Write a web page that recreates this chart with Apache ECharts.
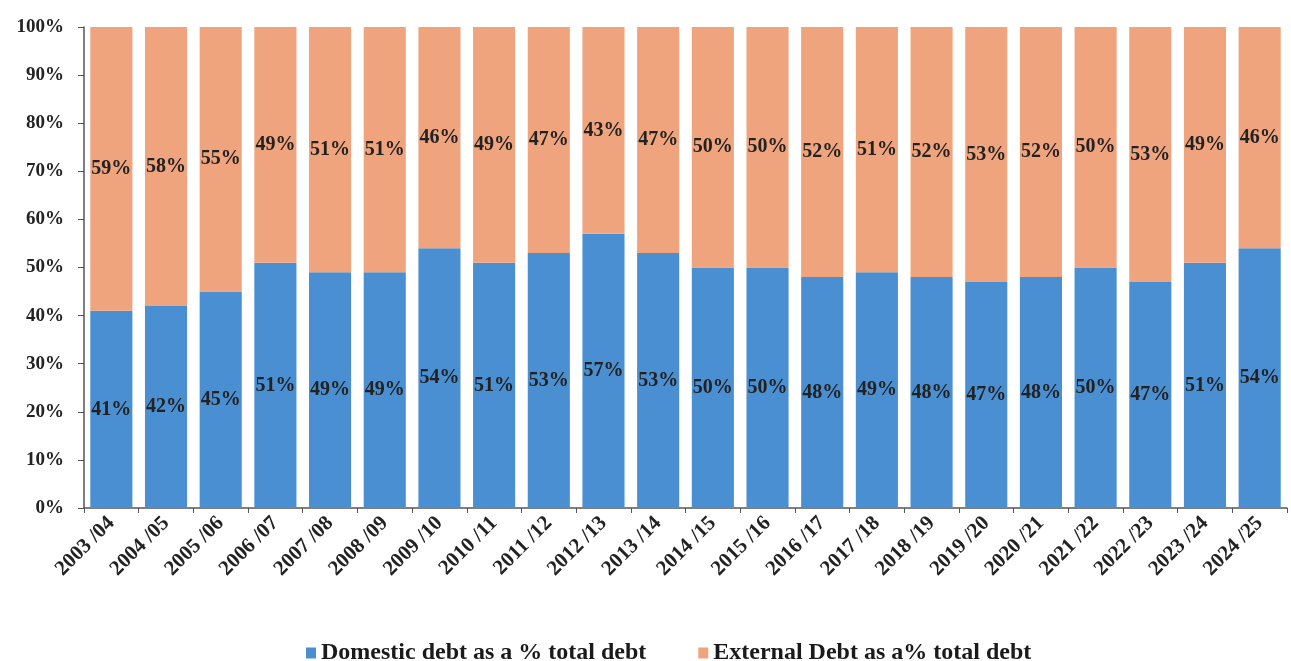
<!DOCTYPE html>
<html>
<head>
<meta charset="utf-8">
<script src="https://cdn.jsdelivr.net/npm/echarts@6/dist/echarts.min.js"></script>
<style>
  html, body { margin: 0; padding: 0; background: #fff; }
  #chart { width: 1291px; height: 661px; }
</style>
</head>
<body>
<div id="chart"></div>
<script>
var years = ['2003/04', '2004/05', '2005/06', '2006/07', '2007/08', '2008/09', '2009/10',
    '2010/11', '2011/12', '2012/13', '2013/14', '2014/15', '2015/16', '2016/17', '2017/18',
    '2018/19', '2019/20', '2020/21', '2021/22', '2022/23', '2023/24', '2024/25'];
var domestic = [41, 42, 45, 51, 49, 49, 54, 51, 53, 57, 53, 50, 50, 48, 49, 48, 47, 48, 50, 47, 51, 54];
var external = [59, 58, 55, 49, 51, 51, 46, 49, 47, 43, 47, 50, 50, 52, 51, 52, 53, 52, 50, 53, 49, 46];
var yTicks = [0, 10, 20, 30, 40, 50, 60, 70, 80, 90, 100];

var serif = '"Liberation Serif", "DejaVu Serif", serif';

function drawChart(dom) {
    var labelStyle = {
        show: true,
        position: 'inside',
        formatter: '{c}%',
        fontFamily: serif,
        fontWeight: 'bold',
        fontSize: 20,
        color: '#222'
    };
    var option = {
        backgroundColor: '#fff',
        animation: false,
        grid: {left: 84, right: 4, top: 27, bottom: 153},
        legend: {
            top: 636,
            left: 301,
            itemWidth: 10,
            itemHeight: 11,
            itemGap: 52,
            icon: 'rect',
            textStyle: {fontFamily: serif, fontSize: 24, fontWeight: 'bold', color: '#1a1a1a'},
            data: ['Domestic debt as a % total debt', 'External Debt as a% total debt']
        },
        xAxis: {
            type: 'category',
            data: years,
            axisLine: {lineStyle: {color: '#555', width: 1.5}},
            axisTick: {show: true, length: 5, lineStyle: {color: '#555'}},
            axisLabel: {
                rotate: 45,
                interval: 0,
                fontFamily: serif,
                fontWeight: 'bold',
                fontSize: 21,
                color: '#222',
                margin: 12,
                // the source prints a gap before the slash
                formatter: function (v) { return v.replace('/', ' /'); }
            }
        },
        yAxis: {
            type: 'value',
            min: 0,
            max: 100,
            interval: 10,
            axisLine: {show: true, lineStyle: {color: '#555', width: 1.5}},
            axisTick: {show: true, length: 6, lineStyle: {color: '#555'}},
            splitLine: {show: false},
            axisLabel: {
                fontFamily: serif,
                fontWeight: 'bold',
                fontSize: 19,
                color: '#222',
                margin: 20,
                formatter: function (v) { return yTicks.indexOf(v) >= 0 ? v + '%' : ''; }
            }
        },
        series: [
            {
                name: 'Domestic debt as a % total debt',
                type: 'bar',
                stack: 'total',
                barCategoryGap: '23%',
                itemStyle: {color: '#4a8fd1'},
                label: labelStyle,
                data: domestic
            },
            {
                name: 'External Debt as a% total debt',
                type: 'bar',
                stack: 'total',
                barCategoryGap: '23%',
                itemStyle: {color: '#f0a47e'},
                label: labelStyle,
                data: external
            }
        ]
    };
    var myChart = echarts.init(dom);
    myChart.setOption(option, true);
}

drawChart(document.getElementById('chart'));
</script>
</body>
</html>
